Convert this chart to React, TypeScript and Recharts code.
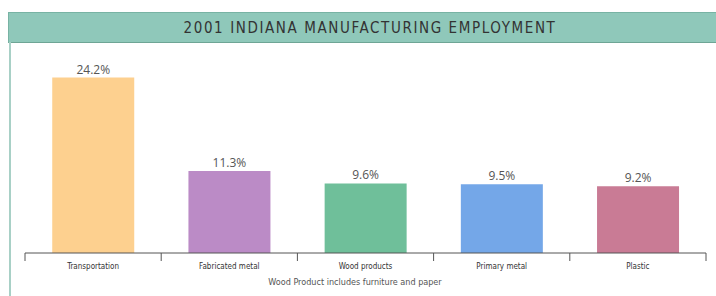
import React from "react";
import { BarChart, Bar, XAxis, YAxis, Cell, LabelList } from "recharts";

const categories = ["Transportation", "Fabricated metal", "Wood products", "Primary metal", "Plastic"];
const shares = [24.2, 11.3, 9.6, 9.5, 9.2];
const barColors = ["#fdd08f", "#bb8bc6", "#6fbf9a", "#74a7e8", "#c97b95"];
const title = "2001 INDIANA MANUFACTURING EMPLOYMENT";
const footnote = "Wood Product includes furniture and paper";

const data = categories.map((c, i) => ({ name: c, value: shares[i] }));

const Tick = (props: any) => {
  const { x, y, payload, index } = props;
  const off = payload && payload.offset ? payload.offset : 0;
  return (
    <g>
      <line x1={x - off} y1={y - 8} x2={x - off} y2={y} stroke="#555" strokeWidth={1} />
      {index === categories.length - 1 && (
        <line x1={x + off} y1={y - 8} x2={x + off} y2={y} stroke="#555" strokeWidth={1} />
      )}
      <text x={x} y={y + 8} textAnchor="middle" fontSize={8} fill="#333"
        fontFamily="'DejaVu Sans Condensed', 'Liberation Sans Narrow', sans-serif">
        {payload.value}
      </text>
    </g>
  );
};

export default function App() {
  return (
    <div style={{ position: "fixed", left: 0, top: 0, width: 716, height: 296, background: "#fff", overflow: "hidden" }}>
      <div style={{
        position: "absolute", left: 8, top: 12, width: 708, height: 29,
        background: "#8fc8ba", borderTop: "1px solid #78b3a4", borderBottom: "1px solid #6ea595",
        borderLeft: "1px solid #78b3a4",
        display: "flex", alignItems: "center", justifyContent: "center",
        fontFamily: "'Liberation Sans Narrow', 'DejaVu Sans Condensed', sans-serif",
        fontSize: 15, color: "#333", letterSpacing: 1.6,
      }}>
        <span style={{ marginLeft: 14 }}>{title}</span>
      </div>
      <div style={{ position: "absolute", left: 9, top: 42, width: 2, height: 254, background: "#a8d0c6" }} />
      <div style={{ position: "absolute", left: 0, top: 0 }}>
        <BarChart width={716} height={296} data={data}
          margin={{ top: 50, right: 10, left: 25, bottom: 0 }} barCategoryGap="20%">
          <YAxis hide domain={[0, 28]} />
          <XAxis dataKey="name" height={43} axisLine={{ stroke: "#555", strokeWidth: 1 }}
            tickLine={false} interval={0} tick={<Tick />} />
          <Bar dataKey="value" isAnimationActive={false}>
            {data.map((d, i) => (
              <Cell key={d.name} fill={barColors[i]} />
            ))}
            <LabelList dataKey="value" position="top" offset={4}
              formatter={(v: any) => `${Number(v).toFixed(1)}%`}
              style={{ fontSize: 12, fill: "#555", fontFamily: "'Open Sans', sans-serif" }} />
          </Bar>
        </BarChart>
      </div>
      <div style={{
        position: "absolute", left: 0, width: 710, top: 277, textAlign: "center",
        fontSize: 9, color: "#555", fontFamily: "'DejaVu Sans Condensed', sans-serif",
      }}>
        {footnote}
      </div>
    </div>
  );
}
